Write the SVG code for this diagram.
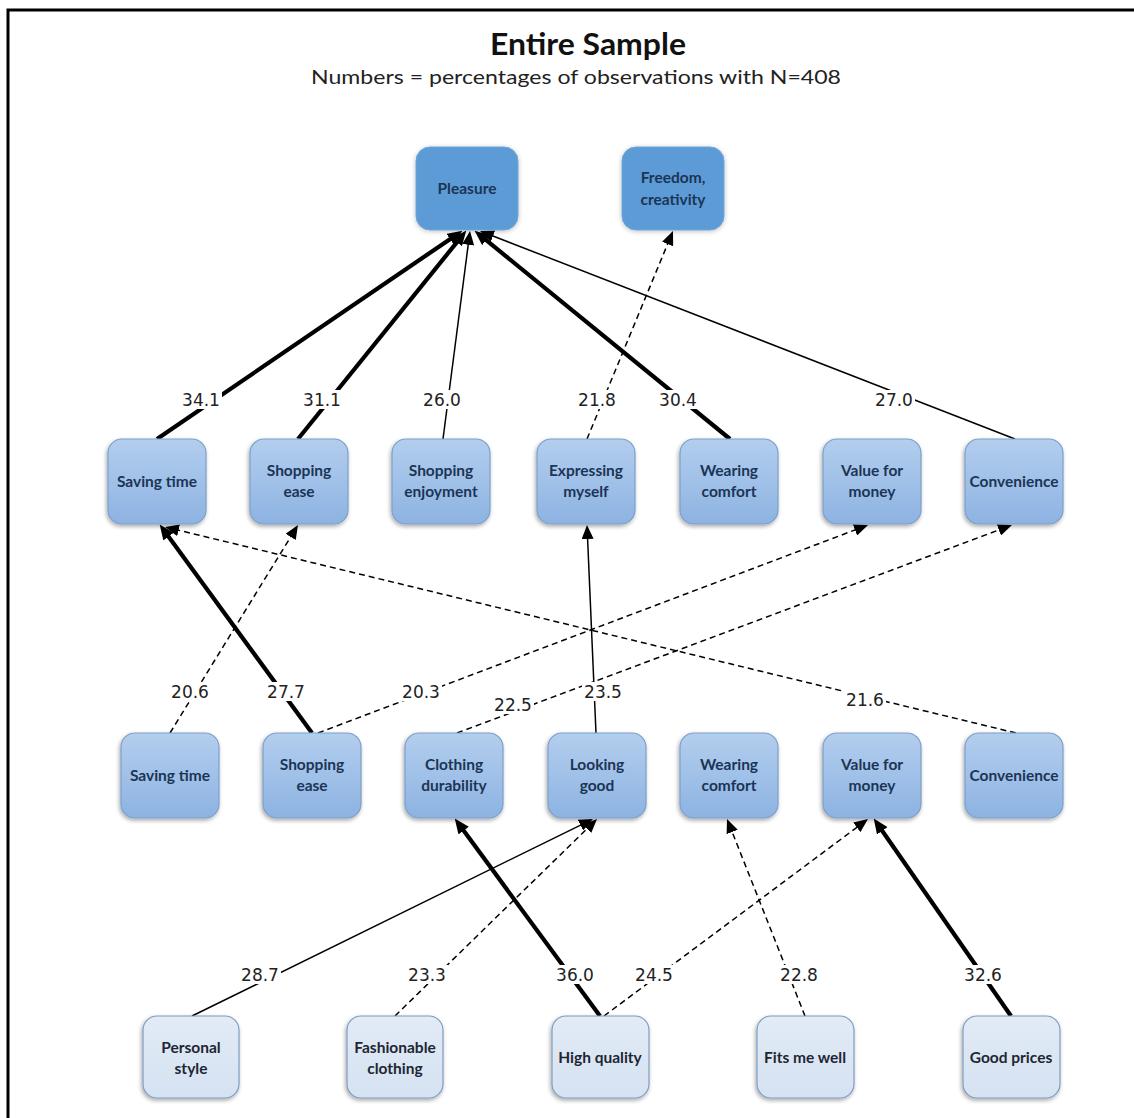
<svg xmlns="http://www.w3.org/2000/svg" width="1134" height="1118" viewBox="0 0 1134 1118">
  <style>
    .title { font-family: Lato, "Liberation Sans", sans-serif; font-weight: 700; font-size: 30px; fill: #111; }
    .subtitle { font-family: Lato, "Liberation Sans", sans-serif; font-size: 19px; fill: #222; }
    .node rect { rx: 14px; ry: 14px; }
    .top rect { fill: #5B9BD5; stroke: #6FA6DA; stroke-width: 1; filter: url(#glow); }
    .mid rect { fill: url(#midFill); stroke: #7C9FCB; stroke-width: 1.2; filter: url(#shadow); }
    .low rect { fill: url(#lowFill); stroke: #7F9CC2; stroke-width: 1.2; filter: url(#shadow); }
    .node text { font-family: Lato, "Liberation Sans", sans-serif; font-weight: 700; font-size: 15.5px; text-anchor: middle; }
    .top text, .mid text { fill: #1B3556; }
    .low text { fill: #1E2633; }
    .edge { fill: none; stroke: #000; }
    .thick { stroke-width: 4.2; marker-end: url(#headBig); }
    .thin { stroke-width: 1.5; marker-end: url(#head); }
    .dash { stroke-width: 1.5; stroke-dasharray: 6 4; marker-end: url(#head); }
    .lbl rect { fill: #fff; }
    .lbl text { font-family: "DejaVu Sans", Verdana, sans-serif; font-size: 17px; fill: #222; text-anchor: middle; }
  </style>
  <defs>
    <linearGradient id="midFill" x1="0" y1="0" x2="0" y2="1">
      <stop offset="0" stop-color="#B3CEEE"/>
      <stop offset="1" stop-color="#8DB3E2"/>
    </linearGradient>
    <linearGradient id="lowFill" x1="0" y1="0" x2="0" y2="1">
      <stop offset="0" stop-color="#E2EBF6"/>
      <stop offset="1" stop-color="#D5E2F2"/>
    </linearGradient>
    <filter id="shadow" x="-20%" y="-20%" width="140%" height="140%">
      <feGaussianBlur in="SourceAlpha" stdDeviation="2"/>
      <feOffset dx="-1" dy="2" result="b"/>
      <feComponentTransfer><feFuncA type="linear" slope="0.35"/></feComponentTransfer>
      <feMerge><feMergeNode/><feMergeNode in="SourceGraphic"/></feMerge>
    </filter>
    <filter id="glow" x="-20%" y="-20%" width="140%" height="140%">
      <feGaussianBlur in="SourceAlpha" stdDeviation="2.5"/>
      <feOffset dx="0" dy="1"/>
      <feComponentTransfer><feFuncA type="linear" slope="0.25"/></feComponentTransfer>
      <feMerge><feMergeNode/><feMergeNode in="SourceGraphic"/></feMerge>
    </filter>
    <marker id="head" markerUnits="userSpaceOnUse" viewBox="0 0 14 12" markerWidth="14" markerHeight="12" refX="7" refY="6" orient="auto">
      <path d="M0,0 L14,6 L0,12 Z" fill="#000"/>
    </marker>
    <marker id="headBig" markerUnits="userSpaceOnUse" viewBox="0 0 14 12" markerWidth="15" markerHeight="13" refX="7" refY="6" orient="auto">
      <path d="M0,0 L14,6 L0,12 Z" fill="#000"/>
    </marker>
  </defs>

  <rect width="1134" height="1118" fill="#fff"/>

  <!-- frame -->
  <path d="M8,1118 L8,10 L1134,10" fill="none" stroke="#000" stroke-width="3"/>

  <!-- heading -->
  <text class="title" x="588" y="55" text-anchor="middle" textLength="196" lengthAdjust="spacingAndGlyphs">Entire Sample</text>
  <text class="subtitle" x="576" y="84" text-anchor="middle" textLength="530" lengthAdjust="spacingAndGlyphs">Numbers = percentages of observations with N=408</text>

  <!-- connectors -->
  <g id="connectors">
    <!-- into Pleasure / Freedom -->
    <line class="edge thick" x1="157" y1="439" x2="456.2" y2="234.9"/>
    <line class="edge thick" x1="298" y1="439" x2="461.6" y2="236.4"/>
    <line class="edge thin" x1="443" y1="439" x2="469.1" y2="237.9"/>
    <line class="edge thick" x1="730" y1="439" x2="480.4" y2="235.4"/>
    <line class="edge thin" x1="1015" y1="439" x2="486.5" y2="233.5"/>
    <line class="edge dash" x1="587" y1="439" x2="670.3" y2="237.5"/>
    <!-- middle row to upper row -->
    <line class="edge thick" x1="312" y1="733" x2="164.1" y2="530.6"/>
    <line class="edge dash" x1="170" y1="733" x2="294.3" y2="531"/>
    <line class="edge dash" x1="318" y1="733" x2="861.5" y2="527.5"/>
    <line class="edge dash" x1="457" y1="733" x2="1005.4" y2="527.5"/>
    <line class="edge thin" x1="596" y1="733" x2="587.3" y2="532"/>
    <line class="edge dash" x1="1016" y1="733" x2="171.8" y2="528.6"/>
    <!-- bottom row to middle row -->
    <line class="edge thin" x1="192" y1="1016" x2="586.7" y2="822.1"/>
    <line class="edge dash" x1="395" y1="1016" x2="592" y2="823.9"/>
    <line class="edge thick" x1="600" y1="1016" x2="459.2" y2="824.6"/>
    <line class="edge dash" x1="604" y1="1016" x2="862.4" y2="823.2"/>
    <line class="edge dash" x1="805" y1="1016" x2="729.6" y2="825.5"/>
    <line class="edge thick" x1="1011" y1="1016" x2="878" y2="824.7"/>
  </g>

  <!-- percentages on the connectors -->
  <g id="labels" class="lbl">
    <rect x="180" y="390" width="42" height="19"/><text x="201" y="406">34.1</text>
    <rect x="301" y="390" width="42" height="19"/><text x="322" y="406">31.1</text>
    <rect x="421" y="390" width="42" height="19"/><text x="442" y="406">26.0</text>
    <rect x="576" y="390" width="42" height="19"/><text x="597" y="406">21.8</text>
    <rect x="657" y="390" width="42" height="19"/><text x="678" y="406">30.4</text>
    <rect x="873" y="390" width="42" height="19"/><text x="894" y="406">27.0</text>

    <rect x="169" y="682" width="42" height="19"/><text x="190" y="698">20.6</text>
    <rect x="265" y="682" width="42" height="19"/><text x="286" y="698">27.7</text>
    <rect x="400" y="682" width="42" height="19"/><text x="421" y="698">20.3</text>
    <rect x="492" y="695" width="42" height="19"/><text x="513" y="711">22.5</text>
    <rect x="582" y="682" width="42" height="19"/><text x="603" y="698">23.5</text>
    <rect x="844" y="690" width="42" height="19"/><text x="865" y="706">21.6</text>

    <rect x="239" y="965" width="42" height="19"/><text x="260" y="981">28.7</text>
    <rect x="406" y="965" width="42" height="19"/><text x="427" y="981">23.3</text>
    <rect x="554" y="965" width="42" height="19"/><text x="575" y="981">36.0</text>
    <rect x="633" y="965" width="42" height="19"/><text x="654" y="981">24.5</text>
    <rect x="778" y="965" width="42" height="19"/><text x="799" y="981">22.8</text>
    <rect x="962" y="965" width="42" height="19"/><text x="983" y="981">32.6</text>
  </g>

  <!-- top row -->
  <g id="pleasure" class="node top"><rect x="416" y="147" width="102" height="83"/><text x="467" y="194">Pleasure</text></g>
  <g id="freedom" class="node top"><rect x="622" y="147" width="102" height="83"/><text x="673" y="183">Freedom,</text><text x="673" y="205">creativity</text></g>

  <!-- upper row of consequences -->
  <g id="u-saving-time" class="node mid"><rect x="108" y="439" width="98" height="85"/><text x="157" y="487">Saving time</text></g>
  <g id="u-shopping-ease" class="node mid"><rect x="250" y="439" width="98" height="85"/><text x="299" y="476">Shopping</text><text x="299" y="497">ease</text></g>
  <g id="u-shopping-enjoyment" class="node mid"><rect x="392" y="439" width="98" height="85"/><text x="441" y="476">Shopping</text><text x="441" y="497">enjoyment</text></g>
  <g id="u-expressing-myself" class="node mid"><rect x="537" y="439" width="98" height="85"/><text x="586" y="476">Expressing</text><text x="586" y="497">myself</text></g>
  <g id="u-wearing-comfort" class="node mid"><rect x="680" y="439" width="98" height="85"/><text x="729" y="476">Wearing</text><text x="729" y="497">comfort</text></g>
  <g id="u-value-for-money" class="node mid"><rect x="823" y="439" width="98" height="85"/><text x="872" y="476">Value for</text><text x="872" y="497">money</text></g>
  <g id="u-convenience" class="node mid"><rect x="965" y="439" width="98" height="85"/><text x="1014" y="487">Convenience</text></g>

  <!-- lower row of consequences -->
  <g id="l-saving-time" class="node mid"><rect x="121" y="733" width="98" height="85"/><text x="170" y="781">Saving time</text></g>
  <g id="l-shopping-ease" class="node mid"><rect x="263" y="733" width="98" height="85"/><text x="312" y="770">Shopping</text><text x="312" y="791">ease</text></g>
  <g id="l-clothing-durability" class="node mid"><rect x="405" y="733" width="98" height="85"/><text x="454" y="770">Clothing</text><text x="454" y="791">durability</text></g>
  <g id="l-looking-good" class="node mid"><rect x="548" y="733" width="98" height="85"/><text x="597" y="770">Looking</text><text x="597" y="791">good</text></g>
  <g id="l-wearing-comfort" class="node mid"><rect x="680" y="733" width="98" height="85"/><text x="729" y="770">Wearing</text><text x="729" y="791">comfort</text></g>
  <g id="l-value-for-money" class="node mid"><rect x="823" y="733" width="98" height="85"/><text x="872" y="770">Value for</text><text x="872" y="791">money</text></g>
  <g id="l-convenience" class="node mid"><rect x="965" y="733" width="98" height="85"/><text x="1014" y="781">Convenience</text></g>

  <!-- attributes -->
  <g id="personal-style" class="node low"><rect x="143" y="1016" width="96" height="82"/><text x="191" y="1053">Personal</text><text x="191" y="1074">style</text></g>
  <g id="fashionable-clothing" class="node low"><rect x="347" y="1016" width="96" height="82"/><text x="395" y="1053">Fashionable</text><text x="395" y="1074">clothing</text></g>
  <g id="high-quality" class="node low"><rect x="552" y="1016" width="97" height="82"/><text x="600" y="1063">High quality</text></g>
  <g id="fits-me-well" class="node low"><rect x="757" y="1016" width="97" height="82"/><text x="805" y="1063">Fits me well</text></g>
  <g id="good-prices" class="node low"><rect x="963" y="1016" width="97" height="82"/><text x="1011" y="1063">Good prices</text></g>
</svg>
